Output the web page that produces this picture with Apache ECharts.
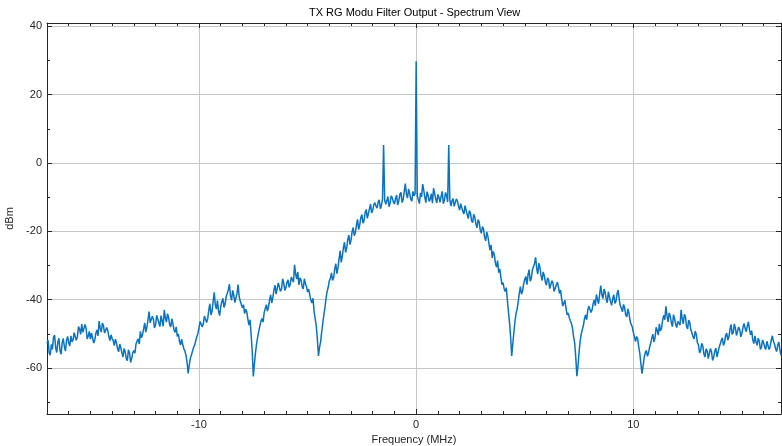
<!DOCTYPE html>
<html>
<head>
<meta charset="utf-8">
<script src="https://cdn.jsdelivr.net/npm/echarts@6/dist/echarts.min.js"></script>
<style>
html,body{margin:0;padding:0;background:#fff;}
#chart{width:782px;height:446px;}
</style>
</head>
<body>
<div id="chart"></div>
<script>
// Frequency grid (MHz): first point and spacing of the sampled spectrum
const freqStart = -17.0;
const freqStep = 0.1;

// Spectrum level (dBm) at -17.0, -16.9, ... 16.8 MHz
const levels = [
  -52.8, -55.6, -53.1, -51.0, -54.2, -52.4, -55.0, -52.6, -53.8, -51.9,
  -52.7, -50.6, -51.8, -49.4, -50.9, -48.6, -47.2, -49.8, -48.4, -50.7,
  -51.6, -50.2, -51.8, -48.9, -46.3, -49.5, -47.6, -50.3, -49.1, -52.0,
  -51.4, -53.5, -52.6, -55.3, -54.1, -56.8, -55.2, -57.9, -55.6, -57.2,
  -54.9, -53.0, -51.5, -49.3, -50.2, -46.8, -48.1, -43.5, -47.2, -45.8,
  -47.4, -45.1, -47.9, -46.2, -43.0, -46.6, -45.3, -48.0, -47.1, -49.6,
  -50.8, -52.2, -51.6, -54.4, -56.3, -61.6, -57.2, -55.8, -53.4, -50.9,
  -48.2, -45.9, -47.0, -44.3, -45.6, -41.2, -43.5, -37.9, -42.8, -43.4,
  -42.1, -39.6, -41.3, -38.8, -35.5, -40.2, -38.6, -41.0, -35.6, -40.5,
  -42.4, -44.1, -43.6, -47.5, -50.3, -62.5, -55.6, -51.0, -48.9, -45.5,
  -43.8, -41.5, -42.2, -38.6, -39.4, -35.8, -37.9, -34.6, -36.8, -35.2,
  -36.5, -34.2, -35.6, -33.1, -29.8, -34.0, -35.7, -34.3, -36.9, -35.4,
  -37.8, -38.6, -41.0, -43.5, -47.8, -56.5, -52.4, -47.0, -42.3, -37.6,
  -34.5, -32.2, -33.6, -29.5, -30.8, -25.7, -27.3, -23.2, -24.9, -21.1,
  -22.6, -18.9, -20.4, -16.5, -18.2, -15.1, -16.9, -13.6, -14.8, -12.0,
  -13.9, -11.6, -13.2, -10.8, -12.5, 5.3, -12.1, -9.8, -11.7, -10.2,
  -12.0, -9.4, -11.1, -8.6, -10.7, -6.0, -10.3, -8.9, -11.2, -9.6,
  29.8, -10.8, -8.7, -6.2, -10.1, -8.4, -11.3, -9.0, -7.4, -10.6,
  -9.2, -11.5, -8.3, -10.9, -9.6, 5.3, -12.6, -10.4, -13.1, -11.2,
  -13.8, -12.1, -14.9, -13.0, -16.3, -14.6, -17.5, -15.9, -19.0, -17.2,
  -20.6, -19.3, -22.8, -21.4, -25.5, -27.8, -26.9, -30.5, -32.1, -33.4,
  -35.0, -37.6, -40.2, -46.8, -56.5, -49.5, -44.0, -40.6, -36.2, -37.5,
  -34.1, -35.6, -31.2, -33.9, -30.8, -27.6, -32.5, -30.6, -34.4, -33.0,
  -35.8, -34.2, -36.9, -35.1, -37.4, -34.9, -38.2, -39.8, -41.5, -42.6,
  -43.9, -46.2, -48.5, -52.7, -62.4, -55.4, -50.1, -47.6, -44.5, -43.2,
  -41.6, -43.0, -40.1, -38.5, -41.2, -35.9, -39.7, -37.8, -40.9, -39.2,
  -41.7, -38.6, -40.5, -37.2, -41.8, -43.6, -42.4, -45.1, -44.0, -47.3,
  -49.6, -52.3, -51.5, -55.8, -61.7, -57.0, -54.9, -55.6, -52.8, -50.1,
  -51.2, -49.0, -47.1, -48.3, -44.6, -42.0, -46.5, -44.8, -47.9, -45.6,
  -48.2, -45.9, -43.0, -47.1, -45.0, -48.6, -46.8, -49.8, -51.5, -50.2,
  -53.3, -54.9, -53.6, -56.8, -55.0, -57.6, -55.3, -56.9, -54.2, -55.5,
  -53.1, -51.2, -52.6, -49.8, -50.9, -47.3, -49.6, -48.4, -50.7, -48.8,
  -49.9, -47.0, -49.4, -46.5, -50.3, -51.8, -50.6, -53.4, -52.1, -54.0,
  -52.7, -54.6, -51.9, -53.8, -50.6, -53.0, -55.2, -52.4, -56.3
];

// Spectrum level (dBm) at the half-step points -16.95, -16.85, ... 16.75 MHz
const levelsMid = [
  -51.9, -56.3, -54.6, -50.4, -55.5, -51.3, -56.0, -51.4, -55.1, -50.8,
  -53.6, -52.4, -49.7, -51.9, -47.9, -50.2, -49.6, -47.3, -51.5, -49.3,
  -49.8, -52.7, -49.9, -50.6, -48.4, -46.9, -49.8, -48.2, -50.9, -50.3,
  -52.0, -51.6, -54.4, -53.0, -55.6, -54.3, -57.3, -54.7, -58.4, -55.6,
  -55.7, -52.1, -53.0, -51.2, -48.6, -49.5, -45.9, -46.8, -44.9, -48.3,
  -44.6, -46.8, -44.7, -47.8, -45.4, -44.1, -47.4, -45.6, -48.9, -48.0,
  -50.0, -53.3, -53.1, -55.0, -58.4, -59.3, -56.2, -54.0, -52.0, -49.9,
  -46.4, -48.0, -44.8, -46.7, -43.1, -44.5, -40.6, -41.5, -40.3, -44.7,
  -40.6, -42.3, -39.2, -37.1, -38.9, -37.3, -40.9, -38.2, -39.1, -41.0,
  -41.5, -42.8, -45.7, -45.9, -55.0, -59.0, -53.0, -49.3, -46.4, -46.6,
  -42.6, -43.4, -40.1, -41.0, -37.2, -38.4, -35.1, -37.6, -33.9, -37.3,
  -35.0, -36.4, -33.4, -34.9, -32.5, -31.9, -33.6, -36.2, -33.9, -36.1,
  -36.9, -40.2, -39.6, -45.6, -51.5, -54.0, -49.4, -44.4, -39.6, -36.4,
  -33.8, -34.4, -31.0, -32.4, -28.0, -29.1, -24.8, -26.2, -22.4, -23.9,
  -20.1, -21.3, -18.1, -19.5, -16.0, -17.6, -14.5, -16.2, -13.4, -14.6,
  -12.2, -12.6, -11.4, -13.4, -10.6, -10.9, -11.0, -12.8, -9.6, -11.4,
  -10.4, -12.3, -9.2, -11.6, -8.4, -9.1, -7.6, -10.6, -8.3, -9.0,
  -9.5, -11.9, -9.9, -8.0, -11.6, -9.4, -10.5, -11.8, -8.9, -11.7,
  -10.1, -9.7, -11.9, -8.6, -11.4, -10.8, -11.1, -12.7, -10.5, -12.6,
  -11.9, -14.2, -12.5, -15.1, -13.9, -16.9, -15.0, -17.9, -16.6, -19.6,
  -18.6, -21.7, -20.2, -23.5, -24.0, -25.9, -29.4, -28.6, -31.0, -35.6,
  -36.8, -36.5, -43.5, -51.0, -53.0, -46.4, -42.8, -38.1, -38.4, -35.4,
  -33.2, -32.8, -34.6, -31.3, -29.4, -30.9, -29.3, -33.0, -31.9, -34.9,
  -33.6, -36.8, -34.5, -37.6, -35.8, -36.3, -37.2, -41.9, -40.2, -44.5,
  -45.3, -47.0, -50.9, -57.0, -59.6, -52.3, -48.8, -45.6, -45.9, -41.9,
  -43.8, -41.1, -41.8, -40.0, -38.3, -38.6, -36.9, -39.8, -37.7, -40.6,
  -39.7, -41.1, -38.3, -39.9, -42.5, -41.4, -44.5, -42.7, -46.2, -48.0,
  -50.9, -50.8, -53.9, -58.9, -59.5, -55.5, -56.6, -53.9, -51.3, -52.4,
  -48.1, -50.4, -49.2, -46.0, -45.9, -44.7, -43.9, -46.8, -44.4, -47.3,
  -46.4, -47.5, -45.6, -44.3, -47.8, -46.0, -48.9, -50.9, -49.2, -52.6,
  -55.6, -52.8, -55.9, -54.4, -57.3, -54.3, -57.8, -55.1, -56.8, -54.0,
  -51.9, -53.4, -50.5, -51.9, -48.7, -50.2, -47.1, -50.5, -48.0, -50.9,
  -48.1, -48.5, -47.7, -48.8, -49.1, -52.9, -52.4, -51.3, -54.6, -51.8,
  -53.9, -52.2, -54.6, -51.9, -52.2, -54.4, -53.3, -54.7
];

// Axis ticks
const xMajorTicks = [-10, 0, 10];
const xMinorTicks = [-16, -15, -14, -13, -12, -11, -9, -8, -7, -6, -5, -4, -3, -2, -1,
                     1, 2, 3, 4, 5, 6, 7, 8, 9, 11, 12, 13, 14, 15, 16];
const yMajorTicks = [-60, -40, -20, 0, 20, 40];
const yMinorTicks = [-70, -50, -30, -10, 10, 30];

const xRange = [-17, 16.8];
const yRange = [-73.5, 41];

const titleText = 'TX RG Modu Filter Output - Spectrum View';
const xName = 'Frequency (MHz)';
const yName = 'dBm';

const seriesData = [];
levels.forEach((v, i) => {
  const f = Math.round((freqStart + i * freqStep) * 100) / 100;
  seriesData.push([f, v]);
  if (i < levelsMid.length) {
    seriesData.push([Math.round((f + freqStep / 2) * 100) / 100, levelsMid[i]]);
  }
});

const axisColor = '#262626';
const gridColor = '#c6c6c6';
const fontFam = '"Liberation Sans", Arial, Helvetica, sans-serif';

function xAx(pos, ticks, len, withLine, withLabel, withSplit) {
  return {
    type: 'value', position: pos, min: xRange[0], max: xRange[1],
    axisLine: { show: withLine, onZero: false, lineStyle: { color: axisColor, width: 1 } },
    axisTick: { show: true, inside: true, length: len, customValues: ticks, lineStyle: { color: axisColor, width: 1 } },
    axisLabel: withLabel ? { show: true, customValues: ticks, color: axisColor, fontSize: 11, fontFamily: fontFam, margin: 5 } : { show: false },
    splitLine: { show: withSplit, lineStyle: { color: gridColor, width: 1 } },
    name: withLabel ? xName : '',
    nameLocation: 'middle', nameGap: 19,
    nameTextStyle: { color: axisColor, fontSize: 11, fontFamily: fontFam }
  };
}
function yAx(pos, ticks, len, withLine, withLabel, withSplit) {
  return {
    type: 'value', position: pos, min: yRange[0], max: yRange[1],
    axisLine: { show: withLine, onZero: false, lineStyle: { color: axisColor, width: 1 } },
    axisTick: { show: true, inside: true, length: len, customValues: ticks, lineStyle: { color: axisColor, width: 1 } },
    axisLabel: withLabel ? { show: true, customValues: ticks, color: axisColor, fontSize: 11, fontFamily: fontFam, margin: 5 } : { show: false },
    splitLine: { show: withSplit, lineStyle: { color: gridColor, width: 1 } },
    name: withLabel ? yName : '',
    nameLocation: 'middle', nameGap: 30, nameRotate: 90,
    nameTextStyle: { color: axisColor, fontSize: 11, fontFamily: fontFam }
  };
}

const chart = echarts.init(document.getElementById('chart'), null, { renderer: 'canvas' });
chart.setOption({
  animation: false,
  backgroundColor: '#ffffff',
  title: {
    text: titleText, left: 309, top: 7, padding: 0,
    textStyle: { fontSize: 11, fontWeight: 'normal', color: '#000', fontFamily: fontFam }
  },
  grid: { left: 47, right: 1, top: 23, bottom: 32, containLabel: false, outerBoundsMode: 'none' },
  xAxis: [
    xAx('bottom', xMajorTicks, 5, true, true, true),
    xAx('bottom', xMinorTicks, 3, false, false, false),
    xAx('top', xMajorTicks, 5, true, false, false),
    xAx('top', xMinorTicks, 3, false, false, false)
  ],
  yAxis: [
    yAx('left', yMajorTicks, 5, true, true, true),
    yAx('left', yMinorTicks, 3, false, false, false),
    yAx('right', yMajorTicks, 5, true, false, false),
    yAx('right', yMinorTicks, 3, false, false, false)
  ],
  series: [{
    type: 'line', xAxisIndex: 0, yAxisIndex: 0,
    data: seriesData, showSymbol: false, symbol: 'none',
    sampling: 'none',
    lineStyle: { color: '#0b72bd', width: 1.5 },
    clip: true, z: 5
  }]
});
</script>
</body>
</html>
